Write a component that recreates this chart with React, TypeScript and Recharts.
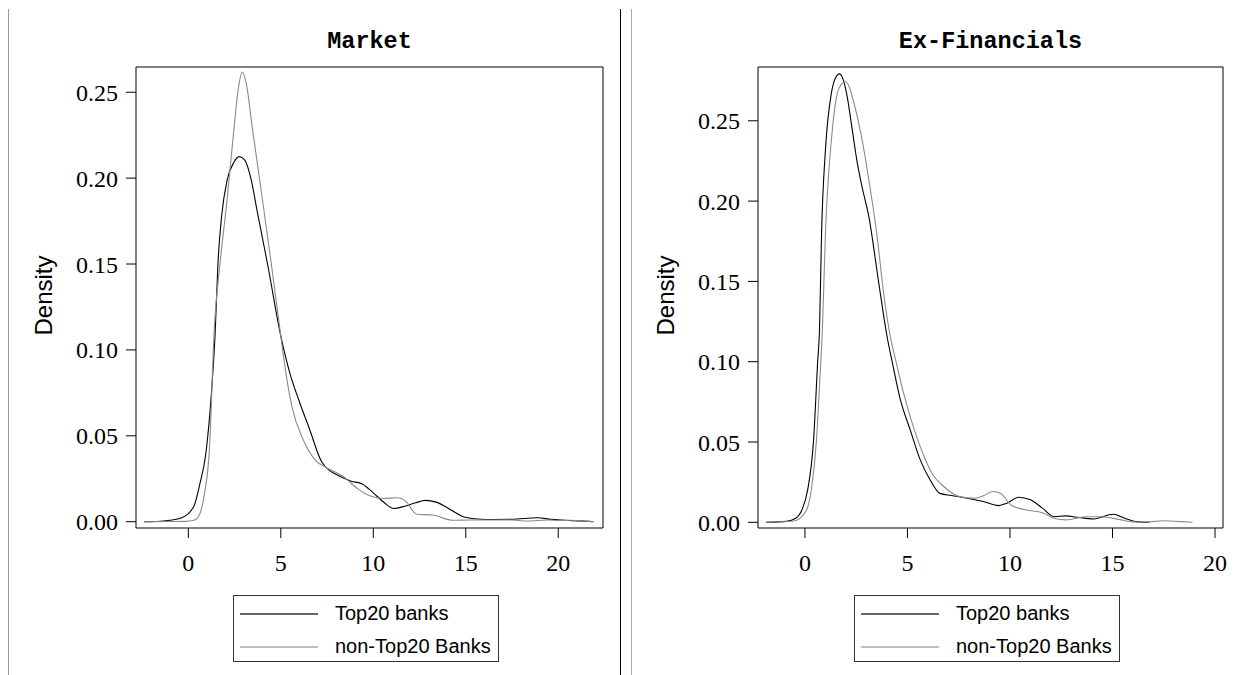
import React from 'react'
import { LineChart, Line, XAxis, YAxis, ReferenceArea, Legend } from 'recharts'

const seriesNames = ['Top20 banks', 'non-Top20 Banks']
const xTicks = [0, 5, 10, 15, 20]
const yTicks = [0, 0.05, 0.1, 0.15, 0.2, 0.25]

// Market panel, kernel density
const marketTop20X = [-2.4, -1.5, -1.0, -0.35, 0.3, 0.6, 0.95, 1.25, 1.45, 1.6, 1.8, 2.1, 2.45, 2.75, 3.05, 3.4, 3.7, 4.3, 5.0, 5.5, 6.0, 6.55, 7.2, 7.6, 7.9, 8.8, 9.4, 10.0, 10.6, 11.1, 11.7, 12.3, 12.8, 13.4, 14.3, 14.9, 15.8, 16.5, 17.5, 18.9, 19.6, 20.4, 21.2, 21.9]
const marketTop20Y = [0, 0.0003, 0.0008, 0.0023, 0.009, 0.021, 0.04, 0.075, 0.11, 0.15, 0.178, 0.199, 0.209, 0.2125, 0.2105, 0.199, 0.182, 0.149, 0.108, 0.086, 0.07, 0.054, 0.035, 0.03, 0.028, 0.0236, 0.022, 0.0168, 0.011, 0.0077, 0.009, 0.011, 0.0124, 0.0114, 0.0062, 0.0027, 0.0014, 0.0013, 0.0014, 0.0023, 0.0014, 0.0008, 0.0005, 0]
const marketOtherX = [-2.4, -1.0, -0.15, 0.3, 0.6, 0.85, 1.15, 1.4, 1.7, 2.1, 2.45, 2.7, 2.92, 3.15, 3.45, 4.0, 4.5, 5.0, 5.2, 5.6, 6.2, 6.85, 7.5, 8.35, 9.2, 9.85, 10.55, 11.3, 11.75, 12.35, 13.2, 14.3, 15.3, 16.5, 17.5, 18.3, 19.4, 20.0, 20.7, 21.4, 21.9]
const marketOtherY = [0, 0.0001, 0.0002, 0.0008, 0.004, 0.015, 0.044, 0.112, 0.149, 0.188, 0.227, 0.252, 0.2617, 0.254, 0.23, 0.188, 0.149, 0.108, 0.092, 0.067, 0.048, 0.036, 0.0313, 0.0265, 0.0188, 0.0149, 0.0135, 0.0139, 0.012, 0.0043, 0.0039, 0.0008, 0.001, 0.001, 0.001, 0.0004, 0.001, 0.0007, 0.0008, 0.0003, 0]

// Ex-Financials panel
const exFinTop20X = [-1.9, -0.9, -0.45, -0.15, 0.13, 0.42, 0.62, 0.71, 0.81, 1.0, 1.29, 1.5, 1.69, 1.88, 2.06, 2.3, 2.55, 2.8, 3.12, 3.6, 4.0, 4.27, 4.65, 5.13, 5.62, 6.1, 6.58, 7.15, 7.92, 8.7, 9.46, 9.85, 10.42, 11.0, 11.58, 12.15, 12.73, 13.3, 14.08, 15.04, 15.6, 16.2, 16.8]
const exFinTop20Y = [0, 0.0006, 0.0025, 0.0077, 0.02, 0.051, 0.1, 0.12, 0.18, 0.232, 0.2673, 0.277, 0.2792, 0.275, 0.265, 0.245, 0.224, 0.208, 0.19, 0.149, 0.116, 0.099, 0.0765, 0.0577, 0.039, 0.0265, 0.018, 0.0167, 0.015, 0.0129, 0.0104, 0.0119, 0.0156, 0.014, 0.0088, 0.0035, 0.004, 0.0031, 0.0021, 0.005, 0.0025, 0.0004, 0]
const exFinOtherX = [-1.9, -0.55, 0.04, 0.33, 0.56, 0.71, 0.85, 1.0, 1.29, 1.58, 1.78, 1.96, 2.15, 2.35, 2.73, 3.12, 3.5, 3.88, 4.13, 4.46, 4.85, 5.33, 5.81, 6.19, 6.77, 7.54, 8.3, 8.7, 9.17, 9.56, 10.04, 10.8, 11.58, 12.15, 12.73, 13.69, 14.46, 15.42, 16.0, 16.58, 17.54, 18.31, 18.9]
const exFinOtherY = [0, 0.0008, 0.0067, 0.022, 0.051, 0.085, 0.12, 0.18, 0.238, 0.2673, 0.2728, 0.2743, 0.2715, 0.263, 0.242, 0.213, 0.18, 0.1384, 0.118, 0.099, 0.0785, 0.0577, 0.041, 0.0306, 0.0223, 0.016, 0.015, 0.0165, 0.0192, 0.018, 0.0108, 0.0077, 0.006, 0.0025, 0.0015, 0.0035, 0.0035, 0.0015, 0.0002, 0.0002, 0.001, 0.0004, 0]

const toPoints = (xs: number[], ys: number[]) => xs.map((x, i) => ({ x, y: ys[i] }))

const lineColors = ['#000', '#8a8a8a']
const legendColors = ['#333', '#aaa']

const panels = [
  {
    title: 'Market',
    left: 0,
    width: 620,
    margin: { top: 67, right: 17, bottom: 97, left: 76 },
    xDomain: [-2.83, 22.42],
    yDomain: [-0.00367, 0.2647],
    top20: toPoints(marketTop20X, marketTop20Y),
    other: toPoints(marketOtherX, marketOtherY),
  },
  {
    title: 'Ex-Financials',
    left: 620,
    width: 619,
    margin: { top: 67, right: 16, bottom: 97, left: 78 },
    xDomain: [-2.29, 20.39],
    yDomain: [-0.00355, 0.2835],
    top20: toPoints(exFinTop20X, exFinTop20Y),
    other: toPoints(exFinOtherX, exFinOtherY),
  },
]

const tickFont = { fontFamily: '"Liberation Serif", serif', fontSize: 24, fill: '#000' }

const densityLabel = (props: any) => {
  const vb = props.viewBox || { x: 0, y: 0, height: 0 }
  const cx = vb.x - 33
  const cy = vb.y + vb.height / 2 - 2
  return (
    <text
      x={cx}
      y={cy}
      transform={`rotate(-90 ${cx} ${cy})`}
      textAnchor="middle"
      dominantBaseline="central"
      style={{ fontFamily: '"Liberation Sans", Arial, sans-serif', fontSize: 24, fill: '#000' }}
    >
      Density
    </text>
  )
}

const renderLegend = (props: any) => {
  const payload = props.payload || []
  return (
    <div
      style={{
        width: 266,
        height: 67,
        boxSizing: 'border-box',
        border: '1px solid #333',
        background: '#fff',
        paddingTop: 1,
        fontFamily: '"Liberation Sans", Arial, sans-serif',
        fontSize: 20,
        color: '#000',
      }}
    >
      {payload.map((entry: any, i: number) => (
        <div key={entry.value} style={{ display: 'flex', alignItems: 'center', height: 33 }}>
          <svg width={78} height={4} style={{ marginLeft: 6 }}>
            <line x1={0} x2={78} y1={2} y2={2} stroke={legendColors[i]} strokeWidth={1.3} />
          </svg>
          <span style={{ marginLeft: 17, whiteSpace: 'nowrap' }}>{entry.value}</span>
        </div>
      ))}
    </div>
  )
}

function Panel({ p }: { p: (typeof panels)[number] }) {
  return (
    <div style={{ position: 'absolute', left: p.left, top: 0 }}>
      <LineChart width={p.width} height={675} margin={p.margin}>
        <XAxis
          type="number"
          dataKey="x"
          domain={p.xDomain}
          ticks={xTicks}
          allowDataOverflow
          axisLine={false}
          tickSize={10}
          tickMargin={16}
          height={50}
          stroke="#000"
          tick={tickFont}
        />
        <YAxis
          type="number"
          dataKey="y"
          domain={p.yDomain}
          ticks={yTicks}
          allowDataOverflow
          axisLine={false}
          tickSize={10}
          tickMargin={8}
          width={60}
          stroke="#000"
          tick={tickFont}
          tickFormatter={(v: number) => v.toFixed(2)}
          label={densityLabel}
        />
        <ReferenceArea
          x1={p.xDomain[0]}
          x2={p.xDomain[1]}
          y1={p.yDomain[0]}
          y2={p.yDomain[1]}
          fill="none"
          stroke="#000"
          strokeWidth={1}
          ifOverflow="visible"
        />
        <Line
          data={p.top20}
          dataKey="y"
          name={seriesNames[0]}
          type="monotone"
          stroke={lineColors[0]}
          strokeWidth={1.1}
          dot={false}
          isAnimationActive={false}
        />
        <Line
          data={p.other}
          dataKey="y"
          name={seriesNames[1]}
          type="monotone"
          stroke={lineColors[1]}
          strokeWidth={1.1}
          dot={false}
          isAnimationActive={false}
        />
        <Legend
          layout="vertical"
          align="center"
          verticalAlign="middle"
          content={renderLegend}
          wrapperStyle={{ left: p.left === 0 ? 233 : 234, top: 595, width: 266 }}
        />
      </LineChart>
      <div
        style={{
          position: 'absolute',
          top: 27,
          left: p.margin.left + 60,
          width: p.width - p.margin.left - 60 - p.margin.right,
          textAlign: 'center',
          lineHeight: '30px',
          fontFamily: '"Liberation Mono", "Courier New", monospace',
          fontWeight: 'bold',
          fontSize: 23.5,
          color: '#000',
        }}
      >
        {p.title}
      </div>
    </div>
  )
}

export default function App() {
  return (
    <div
      style={{
        position: 'absolute',
        left: 0,
        top: 0,
        width: 1239,
        height: 675,
        background: '#fff',
        overflow: 'hidden',
      }}
    >
      {panels.map((p) => (
        <Panel key={p.title} p={p} />
      ))}
      <div style={{ position: 'absolute', left: 8, top: 9, width: 1.3, height: 666, background: '#999' }} />
      <div style={{ position: 'absolute', left: 620, top: 9, width: 1, height: 666, background: '#000' }} />
      <div style={{ position: 'absolute', left: 631, top: 9, width: 1, height: 666, background: '#aaa' }} />
    </div>
  )
}
